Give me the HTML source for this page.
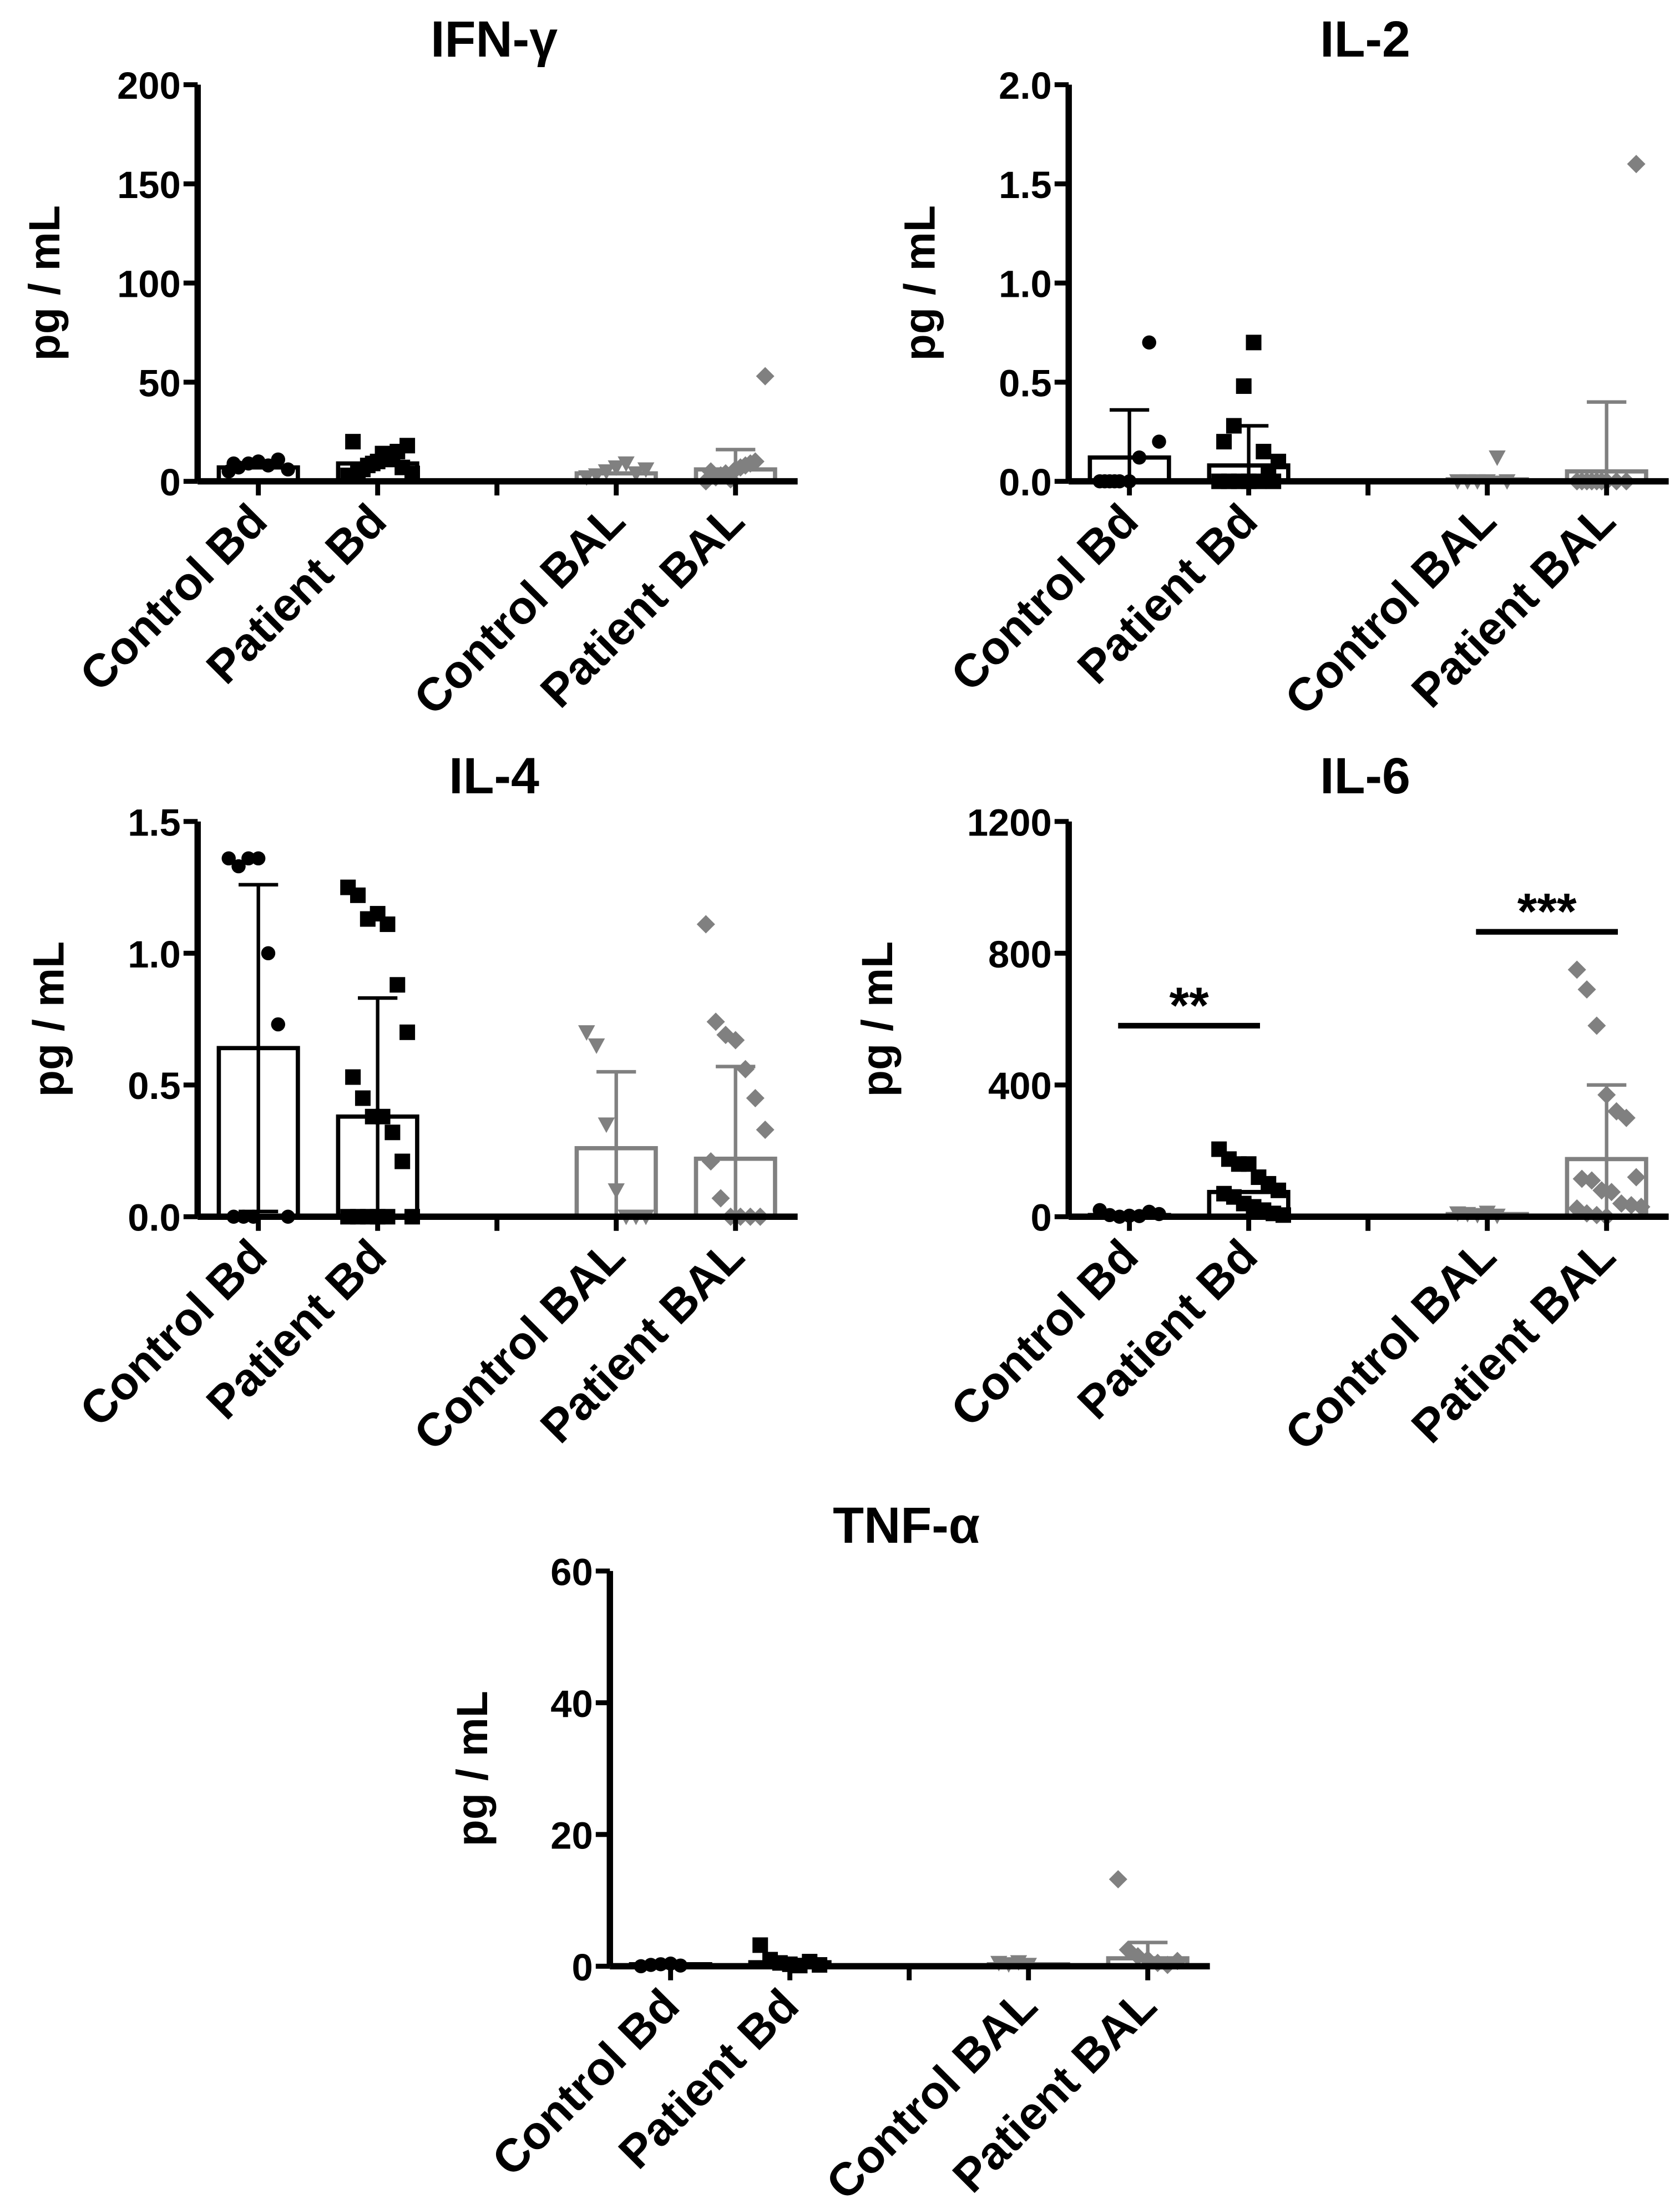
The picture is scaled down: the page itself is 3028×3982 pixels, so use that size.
<!DOCTYPE html>
<html><head><meta charset="utf-8"><style>
html,body{margin:0;padding:0;background:#fff}
svg{display:block}
text{font-family:"Liberation Sans",Arial,sans-serif;font-weight:bold}
</style></head><body>
<svg id="fig" width="3028" height="3982" viewBox="0 0 1190 1565" preserveAspectRatio="none" xmlns="http://www.w3.org/2000/svg"></svg>
<script>
const categories = ["Control Bd","Patient Bd","Control BAL","Patient BAL"];
// IFN-gamma
const ifnTicks = [0,50,100,150,200];
const ifnMeans = [7,9,4,6];
const ifnSD = [0,0,0,10];
const ifnPts = [[5,7,9,10,8,11,6,9],[3,5,8,10,12,15,18,20,6,9,14,11,7,4],[2,3,5,7,9,4,6],[0,2,4,6,8,10,53,5,3,1,7,9]];
// IL-2
const il2Ticks = [0,0.5,1.0,1.5,2.0];
const il2Means = [0.12,0.08,0.01,0.05];
const il2SD = [0.24,0.20,0.01,0.35];
const il2Pts = [[0,0,0,0,0.12,0.7,0.2,0,0],[0,0,0,0,0,0.05,0.1,0.2,0.28,0.48,0.7,0.15,0],[0,0,0,0,0.12,0],[0,0,0,0,0,0,1.6,0,0,0]];
// IL-4
const il4Ticks = [0,0.5,1.0,1.5];
const il4Means = [0.64,0.38,0.26,0.22];
const il4SD = [0.62,0.45,0.29,0.35];
const il4Pts = [[1.36,1.33,1.36,1.36,1.0,0.73,0,0,0,0],[1.25,1.22,1.13,1.15,1.11,0.88,0.70,0.53,0.45,0.38,0.38,0.32,0.21,0,0,0,0,0,0],[0.70,0.65,0.35,0.10,0,0,0],[1.11,0.74,0.69,0.67,0.56,0.45,0.33,0.21,0.07,0,0,0,0]];
// IL-6
const il6Ticks = [0,400,800,1200];
const il6Means = [5,75,8,175];
const il6SD = [0,0,0,225];
const il6Pts = [[20,5,0,3,2,15,8],[205,175,160,160,120,100,80,70,60,40,30,20,10,5],[10,8,5,12,3],[750,690,580,370,320,300,120,115,110,80,75,40,35,30,25,10,5,0]];
// TNF-alpha
const tnfTicks = [0,20,40,60];
const tnfMeans = [0.3,0.6,0.3,1.2];
const tnfSD = [0,0,0,2.4];
const tnfPts = [[0,0.2,0.3,0.4,0.1],[3.2,1,0.5,0.3,0.1,0.7,0.2],[0.5,0.3,0.6,0.2],[13.2,2.5,1.5,1,0.5,0.2,0.8]];

const NS="http://www.w3.org/2000/svg";
const svg=document.getElementById('fig');
function mk(tag,attrs,parent){const e=document.createElementNS(NS,tag);for(const k in attrs)e.setAttribute(k,attrs[k]);(parent||svg).appendChild(e);return e;}

function panel(o){
  const g=mk('g',{});
  
  
  const x0=o.ax, top=o.top, zero=o.zero, x1=o.ax+425;
  const maxV=o.ticks[o.ticks.length-1];
  const y=v=>zero-(v/maxV)*(zero-top);
  const cx=i=>x0+43+i*84.5+(i>=2?84.5:0);
  const t=mk('text',{x:o.ax+210,y:top-20,'font-size':36,'text-anchor':'middle'},g);
  t.textContent=o.title;
  
  
  const yl=mk('text',{x:0,y:0,'font-size':31,'text-anchor':'middle',transform:`translate(${o.ylx},${(top+zero)/2}) rotate(-90)`},g);
  yl.textContent='pg / mL';
  
  
  for(let i=0;i<4;i++){
    const col=i<2?'#000':'#808080';
    const c=cx(i), m=o.means[i], sd=o.sd[i];
    const bar=mk('rect',{x:c-28,y:y(m),width:56,height:zero-y(m),fill:'#fff',stroke:col,'stroke-width':3},g);
    
    
    if(sd>0){
      const lo=Math.max(0,m-sd);
      const eb=mk('path',{d:`M${c},${y(m+sd)}V${y(lo)}M${c-14},${y(m+sd)}H${c+14}`+(o.both?`M${c-14},${y(lo)}H${c+14}`:''),stroke:col,'stroke-width':2.5,fill:'none'},g);
      
      
    }
    o.pts[i].forEach((v,j)=>{
      const px=c+((j%7)-3)*7+(Math.floor(j/7)%2?3.5:0), py=y(v);
      let p;
      if(i===0) p=mk('circle',{cx:px,cy:py,r:5,fill:col},g);
      else if(i===1) p=mk('rect',{x:px-5.5,y:py-5.5,width:11,height:11,fill:col},g);
      else if(i===2) p=mk('path',{d:`M${px-6},${py-5}H${px+6}L${px},${py+6}Z`,fill:col},g);
      else p=mk('path',{d:`M${px},${py-6.5}L${px+6.5},${py}L${px},${py+6.5}L${px-6.5},${py}Z`,fill:col},g);
      
      
    });
  }
  const ya=mk('line',{x1:x0,y1:top,x2:x0,y2:zero,stroke:'#000','stroke-width':4.5},g);
  
  
  const xa=mk('line',{x1:x0,y1:zero,x2:x1,y2:zero,stroke:'#000','stroke-width':4.5},g);
  
  
  o.ticks.forEach(v=>{
    mk('line',{x1:x0-10,y1:y(v),x2:x0,y2:y(v),stroke:'#000','stroke-width':3.5},g);
    const tl=mk('text',{x:x0-12,y:y(v)+10,'font-size':27,'text-anchor':'end'},g);
    tl.textContent=o.fmt?v.toFixed(1):String(v);
    
    
  });
  for(let i=0;i<5;i++){
    const tx=x0+43+i*84.5;
    mk('line',{x1:tx,y1:zero,x2:tx,y2:zero+10,stroke:'#000','stroke-width':3.5},g);
  }
  for(let i=0;i<4;i++){
    const c=cx(i);
    const cl=mk('text',{x:0,y:0,'font-size':33,'text-anchor':'end',transform:`translate(${c+8},${zero+30}) rotate(-45)`},g);
    cl.textContent=categories[i];
    
    
  }
  (o.sig||[]).forEach(s=>{
    const sy=y(s.v);
    const l=mk('line',{x1:cx(s.a)-8,y1:sy,x2:cx(s.b)+8,y2:sy,stroke:'#000','stroke-width':4},g);
    
    
    const st=mk('text',{x:(cx(s.a)+cx(s.b))/2,y:sy-2,'font-size':36,'text-anchor':'middle'},g);
    st.textContent=s.t;
    
    
  });
}
panel({name:'ifn-gamma',title:'IFN-γ',ax:140,top:60,zero:341,ylx:42,ticks:ifnTicks,means:ifnMeans,sd:ifnSD,pts:ifnPts});
panel({name:'il-2',title:'IL-2',ax:757,top:60,zero:341,ylx:662,ticks:il2Ticks,means:il2Means,sd:il2SD,pts:il2Pts,fmt:true});
panel({name:'il-4',title:'IL-4',ax:140,top:582,zero:862,ylx:45,ticks:il4Ticks,means:il4Means,sd:il4SD,pts:il4Pts,fmt:true,both:true});
panel({name:'il-6',title:'IL-6',ax:757,top:582,zero:862,ylx:632,ticks:il6Ticks,means:il6Means,sd:il6SD,pts:il6Pts,sig:[{a:0,b:1,v:580,t:'**'},{a:2,b:3,v:865,t:'***'}]});
panel({name:'tnf-alpha',title:'TNF-α',ax:432,top:1113,zero:1393,ylx:345,ticks:tnfTicks,means:tnfMeans,sd:tnfSD,pts:tnfPts});
</script>
</body></html>
